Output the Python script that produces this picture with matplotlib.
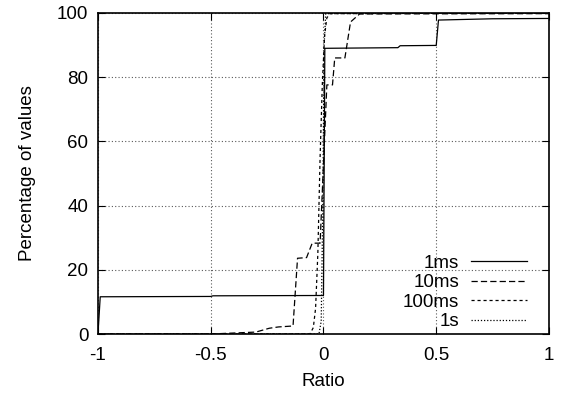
import matplotlib
matplotlib.use('Agg')
import matplotlib.pyplot as plt

plt.rcParams['font.family'] = ['Liberation Sans', 'DejaVu Sans']
plt.rcParams['font.size'] = 13.5

# cumulative distributions
x_1ms = [-1, -0.99, -0.5, -0.49, -0.005, 0.0, 0.006, 0.33, 0.34, 0.5, 0.51, 0.75, 1]
y_1ms = [0, 11.6, 11.7, 11.9, 12.0, 12.0, 89.0, 89.2, 89.8, 89.9, 97.8, 98.2, 98.3]

x_10ms = [-1, -0.5, -0.3, -0.24, -0.2, -0.135, -0.115, -0.075, -0.05, -0.015,
          0.015, 0.04, 0.05, 0.095, 0.12, 0.16, 1]
y_10ms = [0, 0, 0.6, 1.8, 2.2, 2.5, 23.6, 23.8, 28.3, 28.3,
          77.6, 77.6, 86.0, 86.0, 97.2, 99.7, 99.8]

x_100ms = [-1, -0.06, -0.045, -0.035, -0.025, -0.015, -0.005, 0.005, 0.015, 0.03, 1]
y_100ms = [0, 0, 2, 8, 25, 55, 78, 93, 98.5, 99.8, 100]

x_1s = [-1, -0.02, -0.01, -0.003, 0.003, 0.01, 1]
y_1s = [0, 0, 4, 40, 90, 99.8, 100]

xticks = [-1, -0.5, 0, 0.5, 1]
xticklabels = ['-1', '-0.5', '0', '0.5', '1']
yticks = [0, 20, 40, 60, 80, 100]

fig = plt.figure(figsize=(5.67, 3.95), dpi=100)
ax = fig.add_axes([0.1728, 0.1544, 0.7954, 0.8127])

ax.plot(x_1ms, y_1ms, color='black', lw=0.9, ls='-', label='1ms')
ax.plot(x_10ms, y_10ms, color='black', lw=0.9, ls=(0, (5, 2.5)), label='10ms')
ax.plot(x_100ms, y_100ms, color='black', lw=0.9, ls=(0, (2.5, 2.3)), label='100ms')
ax.plot(x_1s, y_1s, color='black', lw=0.9, ls=(0, (1, 1.5)), label='1s')

ax.set_xlim(-1, 1)
ax.set_ylim(0, 100)
ax.set_xticks(xticks)
ax.set_xticklabels(xticklabels)
ax.set_yticks(yticks)
ax.grid(True, color='0.35', ls=(0, (1, 2)), lw=0.8)
ax.tick_params(direction='in', length=5, width=0.8, top=True, right=True)
ax.tick_params(axis='x', pad=9)
ax.tick_params(axis='y', pad=7)
for s in ax.spines.values():
    s.set_linewidth(1.2)

ax.set_xlabel('Ratio', labelpad=7)
ax.set_ylabel('Percentage of values', labelpad=15)

ax.legend(loc='lower right', bbox_to_anchor=(0.951, 0.012), frameon=False,
          markerfirst=False, handlelength=3.0, handletextpad=0.6,
          labelspacing=0.12, borderpad=0, borderaxespad=0, fontsize=13.5)

fig.savefig('out.png', dpi=100)
